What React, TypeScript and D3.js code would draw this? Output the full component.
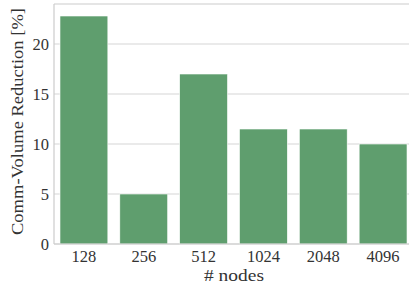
import React from "react";
import * as d3 from "d3";

// data
const nodeCounts = ["128", "256", "512", "1024", "2048", "4096"];
const reduction = [22.8, 5.0, 17.0, 11.5, 11.5, 10.0];
const yTicks = [0, 5, 10, 15, 20];

const W = 409;
const H = 290;
const margin = { top: 4, right: -4, bottom: 46, left: 54 };
const font = "'Liberation Serif', 'DejaVu Serif', serif";

export default function App() {
    const innerBottom = H - margin.bottom;

    const x = d3
        .scaleBand<string>()
        .domain(nodeCounts)
        .range([margin.left, W - margin.right])
        .paddingInner(0.2)
        .paddingOuter(0.1);

    const y = d3.scaleLinear().domain([0, 24]).range([innerBottom, margin.top]);

    const barColor = "#5f9e6e";
    const gridColor = "#d5d5d5";
    const textColor = "#333333";

    return (
        <svg
            width={W}
            height={H}
            style={{ position: "absolute", left: 0, top: 0, background: "#fff" }}
            fontFamily={font}
        >
            {/* horizontal grid */}
            {yTicks.map((t) => (
                <line
                    key={"g" + t}
                    x1={margin.left}
                    x2={W}
                    y1={y(t)}
                    y2={y(t)}
                    stroke={gridColor}
                    strokeWidth={1}
                />
            ))}

            {/* bars */}
            {nodeCounts.map((n, i) => (
                <rect
                    key={n}
                    x={x(n)}
                    y={y(reduction[i])}
                    width={x.bandwidth()}
                    height={y(0) - y(reduction[i])}
                    fill={barColor}
                    stroke="#ffffff"
                    strokeWidth={0.6}
                />
            ))}

            {/* spines */}
            <line x1={margin.left} x2={margin.left} y1={y(24)} y2={y(0)} stroke="#cccccc" strokeWidth={1.2} />
            <line x1={margin.left} x2={W} y1={y(24)} y2={y(24)} stroke="#cccccc" strokeWidth={1.2} />
            <line x1={margin.left} x2={W} y1={y(0)} y2={y(0)} stroke="#cccccc" strokeWidth={1.2} />

            {/* y tick labels */}
            {yTicks.map((t) => (
                <text
                    key={"yt" + t}
                    x={margin.left - 5}
                    y={y(t)}
                    dy="0.35em"
                    textAnchor="end"
                    fontSize={16.5}
                    fill={textColor}
                >
                    {t}
                </text>
            ))}

            {/* x tick labels */}
            {nodeCounts.map((n) => (
                <text
                    key={"xt" + n}
                    x={(x(n) as number) + x.bandwidth() / 2}
                    y={y(0) + 18}
                    textAnchor="middle"
                    fontSize={16.5}
                    fill={textColor}
                >
                    {n}
                </text>
            ))}

            {/* axis titles */}
            <text
                x={204}
                y={281}
                fontSize={17}
                fill={textColor}
                textLength={60}
                lengthAdjust="spacingAndGlyphs"
            >
                # nodes
            </text>
            <text
                transform={`translate(23, 235) rotate(-90)`}
                fontSize={17}
                fill={textColor}
                textLength={227}
                lengthAdjust="spacingAndGlyphs"
            >
                Comm-Volume Reduction [%]
            </text>
        </svg>
    );
}
